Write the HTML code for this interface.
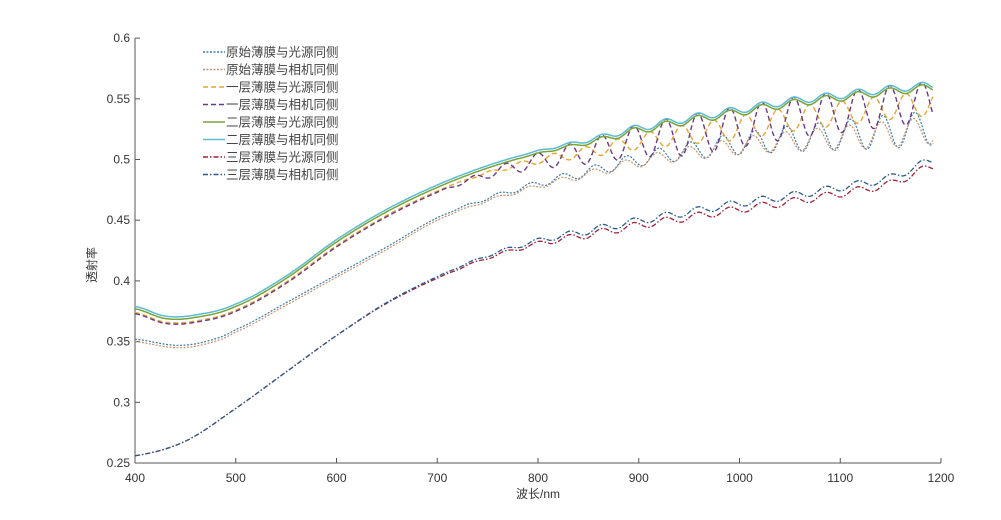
<!DOCTYPE html>
<html><head><meta charset="utf-8"><style>
body{margin:0;background:#fff}
svg{display:block;font-family:"Liberation Sans","Noto Sans CJK SC",sans-serif}
</style></head><body>
<svg id="s" width="1001" height="520" xmlns="http://www.w3.org/2000/svg">
<g stroke="#555" stroke-width="1" fill="none">
<line x1="135" y1="38" x2="135" y2="463"/>
<line x1="135" y1="463" x2="941" y2="463"/>
</g>
<g id="ticks" stroke="#555"></g>
<g id="lbl" font-size="12" fill="#333"></g>
<text x="96" y="265" font-size="12" fill="#333" text-anchor="middle" transform="rotate(-90 96 265)">透射率</text>
<text x="538" y="498" font-size="12" fill="#333" text-anchor="middle">波长/nm</text>
<g id="curves" fill="none"></g>
<g id="legend" font-size="12.5" fill="#444"></g>
</svg>
<script>
const NS="http://www.w3.org/2000/svg";
function el(t,a,p,txt){const e=document.createElementNS(NS,t);for(const k in a)e.setAttribute(k,a[k]);if(txt)e.textContent=txt;document.getElementById(p).appendChild(e);return e;}
const X=x=>135+(x-400)*806/800, Y=v=>463-(v-0.25)/0.05*60.7;
for(let x=400;x<=1200;x+=100){el('line',{x1:X(x),y1:463,x2:X(x),y2:458},'ticks');el('text',{x:X(x),y:482,'text-anchor':'middle'},'lbl',String(x));}
const yl=['0.25','0.3','0.35','0.4','0.45','0.5','0.55','0.6'];
yl.forEach((t,i)=>{const y=Y(0.25+i*0.05);el('line',{x1:135,y1:y,x2:140,y2:y},'ticks');el('text',{x:130,y:y+4,'text-anchor':'end'},'lbl',t);});
function interp(pts,x){for(let i=0;i<pts.length-1;i++){if(x<=pts[i+1][0]){const a=pts[i],b=pts[i+1];const p0=pts[Math.max(i-1,0)],p3=pts[Math.min(i+2,pts.length-1)];const t=(x-a[0])/(b[0]-a[0]);const m1=(b[1]-p0[1])/2,m2=(p3[1]-a[1])/2;const t2=t*t,t3=t2*t;return (2*t3-3*t2+1)*a[1]+(t3-2*t2+t)*m1+(-2*t3+3*t2)*b[1]+(t3-t2)*m2;}}return pts[pts.length-1][1];}
const A=[[400,0.378],[430,0.370],[460,0.371],[500,0.38],[550,0.403],[600,0.433],[650,0.458],[700,0.478],[750,0.494],[800,0.506],[850,0.515],[900,0.525],[950,0.533],[1000,0.540],[1050,0.547],[1100,0.552],[1150,0.557],[1192,0.560]];
const B=[[400,0.352],[440,0.347],[470,0.350],[500,0.36],[550,0.382],[600,0.405],[650,0.428],[700,0.452],[750,0.468],[800,0.480],[850,0.490],[900,0.500],[950,0.507],[1000,0.513],[1050,0.517],[1100,0.520],[1150,0.523],[1192,0.526]];
const C=[[400,0.256],[450,0.268],[500,0.295],[550,0.325],[600,0.355],[650,0.382],[700,0.403],[750,0.42],[800,0.432],[850,0.44],[900,0.448],[950,0.455],[1000,0.462],[1050,0.468],[1100,0.475],[1150,0.483],[1192,0.497]];
function ramp(x,s,e){return Math.max(0,Math.min(1,(x-s)/(e-s)));}
function curve(f,color,dash,w){let d='';for(let x=400;x<=1192;x+=1){const v=f(x);d+=(x==400?'M':'L')+X(x).toFixed(1)+' '+Y(v).toFixed(1);}el('path',{d,stroke:color,'stroke-width':w||1.3,'stroke-dasharray':dash||''},'curves');}
const P=31.8;
const ph=x=>2*Math.PI*(x-1181)/P;
const phB=x=>2*Math.PI*(x-1174)/P;
curve(x=>interp(B,x)+(0.004+0.010*ramp(x,850,1150))*ramp(x,700,850)*Math.cos(phB(x)),'#3a7ca8','2 1.5',1.2);
curve(x=>interp(B,x)-0.002+(0.003+0.008*ramp(x,850,1150))*ramp(x,700,850)*Math.cos(phB(x)+0.3),'#c8906a','2 1.5',1.2);
curve(x=>interp(A,x)-0.004-0.020*ramp(x,720,1000)*(1-Math.cos(ph(x)+Math.PI))/2,'#e6a532','5 3',1.4);
curve(x=>interp(A,x)-0.005+0.009*ramp(x,700,900)-0.034*ramp(x,700,950)*(1-Math.cos(ph(x)))/2,'#6a3a8a','5 3',1.4);
curve(x=>interp(A,x)-0.001+0.003*ramp(x,780,900)*Math.cos(ph(x)),'#7aa33a','',1.5);
curve(x=>interp(A,x)+0.001+0.003*ramp(x,780,900)*Math.cos(ph(x)),'#5bbcd0','',1.5);
curve(x=>interp(C,x)-0.003*ramp(x,600,1000)+0.003*ramp(x,700,850)*Math.cos(ph(x)),'#a0203a','5 2 1.5 2',1.3);
curve(x=>interp(C,x)+0.002*ramp(x,600,1000)+0.003*ramp(x,700,850)*Math.cos(ph(x)),'#2a5a90','5 2 1.5 2',1.3);
const leg=[['原始薄膜与光源同侧','#3a7ca8','2 1.5'],['原始薄膜与相机同侧','#c8906a','2 1.5'],['一层薄膜与光源同侧','#e6a532','5 3'],['一层薄膜与相机同侧','#6a3a8a','5 3'],['二层薄膜与光源同侧','#7aa33a',''],['二层薄膜与相机同侧','#5bbcd0',''],['三层薄膜与光源同侧','#a0203a','5 2 1.5 2'],['三层薄膜与相机同侧','#2a5a90','5 2 1.5 2']];
leg.forEach((l,i)=>{const y=52+i*17.5;el('line',{x1:203,y1:y,x2:225,y2:y,stroke:l[1],'stroke-width':1.5,'stroke-dasharray':l[2]},'legend');el('text',{x:226,y:y+4.5},'legend',l[0]);});
</script>
</body></html>
